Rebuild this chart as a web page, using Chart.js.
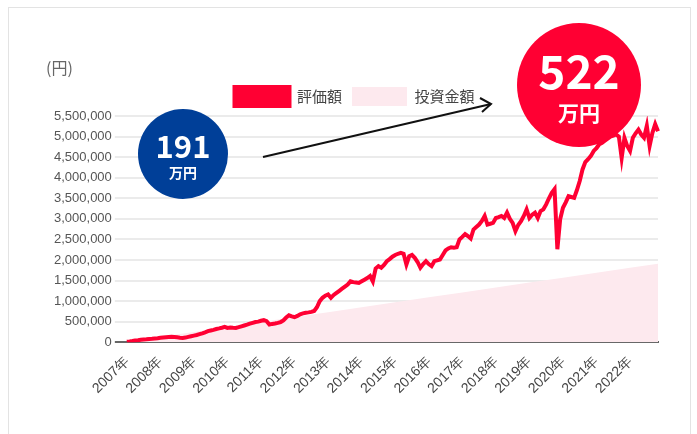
<!DOCTYPE html>
<html>
<head>
<meta charset="utf-8">
<script src="https://cdn.jsdelivr.net/npm/chart.js@4"></script>
<style>
  body { margin: 0; background: #fff; }
  #card { position: absolute; left: 8px; top: 7px; width: 681px; height: 450px; border: 1px solid #e3e3e3; }
  #wrap { position: absolute; left: 0; top: 0; width: 697px; height: 434px; }
</style>
</head>
<body>
<div id="card"></div>
<div id="wrap"><canvas id="lineChart"></canvas></div>
<script>
// 年ラベル（横軸）
const years = ['2007年', '2008年', '2009年', '2010年', '2011年', '2012年', '2013年', '2014年',
  '2015年', '2016年', '2017年', '2018年', '2019年', '2020年', '2021年', '2022年'];

// 評価額（月次、円）
const valuation = [
  10000, 18000, 28000, 40000, 48000, 58000, 66000, 72000, 80000, 85000, 92000, 98000,
  108000, 115000, 120000, 126000, 130000, 125000, 118000, 110000, 105000, 112000, 130000, 146000,
  160000, 175000, 195000, 215000, 240000, 268000, 285000, 300000, 320000, 335000, 352000, 372000,
  348000, 355000, 350000, 348000, 365000, 385000, 405000, 425000, 450000, 470000, 490000, 500000,
  520000, 535000, 511000, 430000, 445000, 455000, 470000, 490000, 530000, 600000, 655000, 630000,
  608000, 640000, 680000, 700000, 715000, 725000, 737000, 760000, 850000, 998000, 1080000, 1130000,
  1160000, 1080000, 1150000, 1200000, 1250000, 1300000, 1350000, 1400000, 1480000, 1460000, 1450000, 1440000,
  1480000, 1520000, 1560000, 1610000, 1480000, 1790000, 1850000, 1810000, 1880000, 1970000, 2020000, 2080000,
  2120000, 2150000, 2170000, 2150000, 1890000, 2090000, 2120000, 2050000, 1950000, 1810000, 1900000, 1970000,
  1900000, 1850000, 1970000, 1990000, 2010000, 2120000, 2230000, 2280000, 2310000, 2300000, 2310000, 2500000,
  2560000, 2630000, 2580000, 2520000, 2740000, 2800000, 2860000, 2950000, 3070000, 2860000, 2880000, 2900000,
  3020000, 3040000, 3070000, 3020000, 3150000, 3000000, 2900000, 2700000, 2850000, 2940000, 3070000, 3230000,
  3020000, 3100000, 3150000, 3020000, 3190000, 3230000, 3350000, 3500000, 3630000, 3720000, 2260000, 2990000,
  3270000, 3400000, 3550000, 3530000, 3510000, 3700000, 3920000, 4200000, 4380000, 4450000, 4530000, 4650000,
  4720000, 4810000, 4850000, 4900000, 4950000, 5000000, 5020000, 5050000, 5000000, 4480000, 4970000, 4770000,
  4650000, 4970000, 5080000, 5170000, 5050000, 4970000, 5260000, 4770000, 5090000, 5300000, 5130000
];

// 投資金額（毎月1万円積立）
const investMonths = ['2007/01', '2008/01', '2009/01', '2010/01', '2011/01', '2012/01', '2013/01', '2014/01',
  '2015/01', '2016/01', '2017/01', '2018/01', '2019/01', '2020/01', '2021/01', '2022/01', '2022/11'];
const investValues = [10000, 130000, 250000, 370000, 490000, 610000, 730000, 850000,
  970000, 1090000, 1210000, 1330000, 1450000, 1570000, 1690000, 1810000, 1910000];

// 月ラベル
const months = [];
for (let i = 0; i < valuation.length; i++) {
  const y = 2007 + Math.floor(i / 12);
  const m = (i % 12) + 1;
  months.push(y + '/' + (m < 10 ? '0' + m : m));
}

const RED = '#ff0033';
const PINK = '#fde9ee';
const jpFont = '"Noto Sans CJK JP", "Noto Sans", sans-serif';

// 丸バッジと矢印
const overlay = {
  id: 'overlay',
  afterDraw(chart) {
    const ctx = chart.ctx;
    ctx.save();
    // (円)
    ctx.fillStyle = '#666';
    ctx.font = '16px ' + jpFont;
    ctx.textAlign = 'left';
    ctx.textBaseline = 'middle';
    ctx.fillText('(円)', 46, 68);

    // 矢印
    ctx.strokeStyle = '#111';
    ctx.lineWidth = 2;
    ctx.beginPath();
    ctx.moveTo(263, 157);
    ctx.lineTo(491, 104);
    ctx.stroke();
    ctx.beginPath();
    ctx.moveTo(480, 98);
    ctx.lineTo(491, 104);
    ctx.lineTo(482, 112);
    ctx.stroke();

    // 191万円
    ctx.fillStyle = '#003f98';
    ctx.beginPath();
    ctx.arc(183, 154, 45, 0, Math.PI * 2);
    ctx.fill();
    ctx.fillStyle = '#fff';
    ctx.textAlign = 'center';
    ctx.font = 'bold 31px ' + jpFont;
    ctx.fillText('191', 183, 146);
    ctx.font = 'bold 14px ' + jpFont;
    ctx.fillText('万円', 183, 173);

    // 522万円
    ctx.fillStyle = RED;
    ctx.beginPath();
    ctx.arc(579, 85, 62, 0, Math.PI * 2);
    ctx.fill();
    ctx.fillStyle = '#fff';
    ctx.font = 'bold 46px ' + jpFont;
    ctx.fillText('522', 579, 72);
    ctx.font = 'bold 21px ' + jpFont;
    ctx.fillText('万円', 579, 113);
    ctx.restore();
  }
};

const ctx = document.getElementById('lineChart').getContext('2d');
new Chart(ctx, {
  type: 'line',
  data: {
    labels: months,
    datasets: [
      {
        label: '評価額',
        data: valuation,
        borderColor: RED,
        backgroundColor: RED,
        borderWidth: 4,
        pointRadius: 0,
        fill: false,
        tension: 0
      },
      {
        label: '投資金額',
        data: investMonths.map((m, i) => ({ x: m, y: investValues[i] })),
        borderColor: PINK,
        backgroundColor: PINK,
        borderWidth: 0,
        pointRadius: 0,
        fill: 'origin',
        tension: 0
      }
    ]
  },
  options: {
    responsive: true,
    maintainAspectRatio: false,
    animation: false,
    layout: { padding: { left: 51, right: 39, top: 77, bottom: 34 } },
    plugins: {
      legend: {
        labels: {
          boxWidth: 55,
          boxHeight: 19,
          padding: 10,
          color: '#444',
          font: { size: 15, family: jpFont }
        }
      },
      tooltip: { enabled: false }
    },
    scales: {
      x: {
        grid: { display: false },
        border: { color: '#666', width: 2 },
        ticks: {
          autoSkip: false,
          maxRotation: 45,
          minRotation: 45,
          color: '#444',
          font: { size: 14, family: '"Liberation Sans", Arial, sans-serif' },
          callback: (v, i) => (i % 12 === 0 ? years[i / 12] : null)
        }
      },
      y: {
        min: 0,
        max: 5500000,
        border: { display: false },
        grid: {
          tickLength: 12,
          lineWidth: 2,
          color: c => (c.tick && c.tick.value === 0 ? '#666' : '#ebebeb')
        },
        ticks: {
          stepSize: 500000,
          padding: 3,
          color: '#555',
          font: { size: 13, family: '"Liberation Sans", Arial, sans-serif' },
          callback: v => v.toLocaleString('en-US')
        }
      }
    }
  },
  plugins: [overlay]
});
</script>
</body>
</html>
